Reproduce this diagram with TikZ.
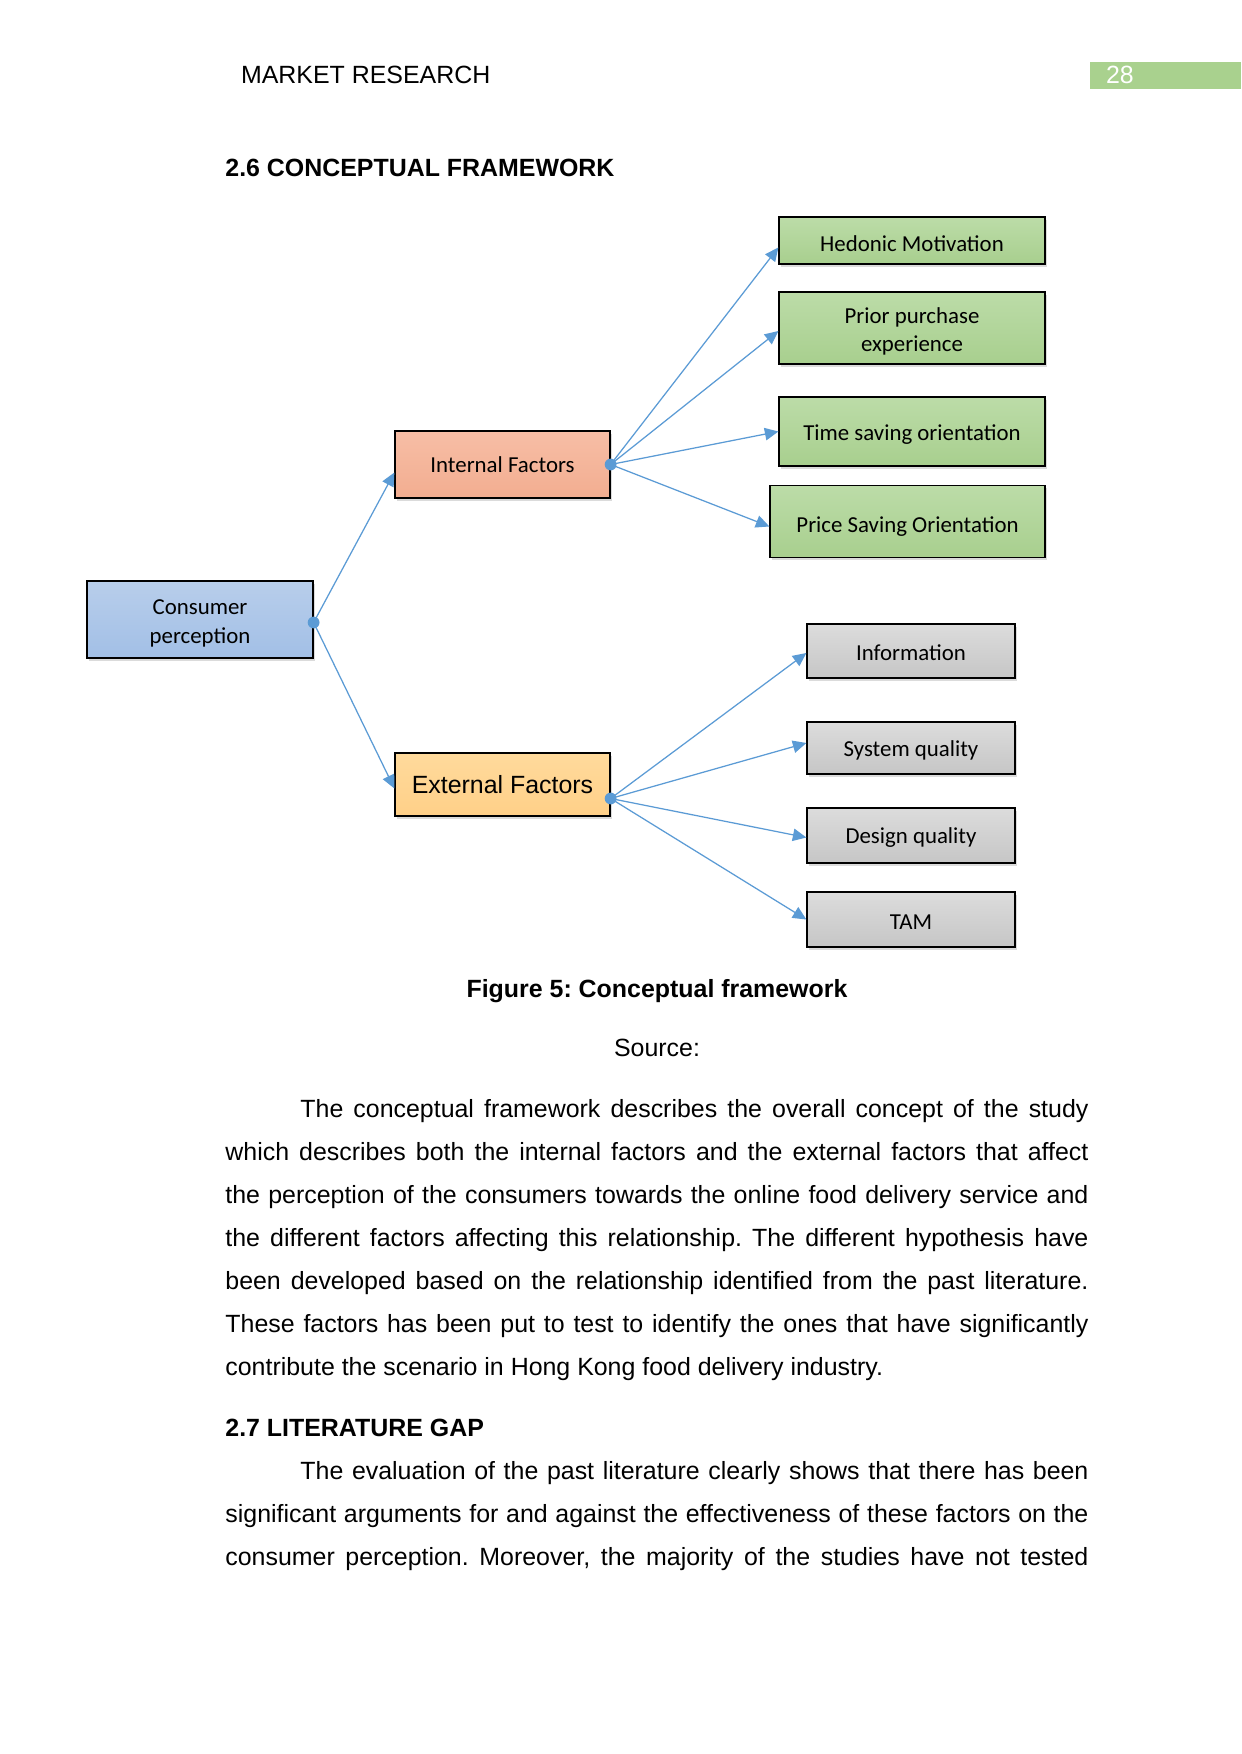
\documentclass[tikz,border=0pt]{standalone}
\usepackage{fontspec}
\setmainfont{Liberation Sans}
\newfontfamily\carlito{Carlito}
\usetikzlibrary{arrows.meta,shadows,calc}
\definecolor{lineblue}{HTML}{5B9BD5}
\definecolor{cptop}{HTML}{B8CEEB}
\definecolor{cpbot}{HTML}{A2BFE6}
\definecolor{inttop}{HTML}{F7BEA6}
\definecolor{intbot}{HTML}{F2AD90}
\definecolor{exttop}{HTML}{FFDA9C}
\definecolor{extbot}{HTML}{FFD088}
\definecolor{grtop}{HTML}{BCDCA8}
\definecolor{grbot}{HTML}{A8CF8E}
\definecolor{gytop}{HTML}{DCDCDC}
\definecolor{gybot}{HTML}{C6C6C6}
\definecolor{pgnum}{HTML}{A9D18E}
\def\pu{0.16922mm}
\newcommand{\topstrut}{\rule{0pt}{10.9pt}}
\frenchspacing
\tikzset{
  box/.style={draw=black, line width=0.6pt, align=center, inner sep=2pt,
    font=\carlito\fontsize{11}{13.6}\selectfont,
    drop shadow={shadow xshift=0.9pt, shadow yshift=-1.4pt, opacity=0.28}},
  lower/.style={execute at begin node={\rule{0pt}{#1}}},
  cpbox/.style={box, top color=cptop, bottom color=cpbot},
  intbox/.style={box, top color=inttop, bottom color=intbot},
  extbox/.style={box, top color=exttop, bottom color=extbot, font=\fontsize{12}{14}\selectfont},
  grbox/.style={box, lower=10.5pt, top color=grtop, bottom color=grbot},
  gybox/.style={box, lower=9.5pt, top color=gytop, bottom color=gybot},
  dot/.style={circle, fill=lineblue, inner sep=0pt, minimum size=2mm},
  conn/.style={draw=lineblue, line width=0.6pt, -{Triangle[length=6.5pt,width=6pt]}},
  txt/.style={anchor=base west, inner sep=0pt},
}
\begin{document}
\begin{tikzpicture}[x=0.16922mm,y=-0.16922mm, font=\fontsize{12}{14}\selectfont]
\useasboundingbox (0,0) rectangle (1241,1754);
\fill[white] (0,0) rectangle (1241,1754);

% header
\node[txt] (hdr) at (240.6,84) {MARKET RESEARCH};
\node[fill=pgnum, anchor=north west, inner sep=0pt, minimum width=151*\pu, minimum height=27*\pu] (pg) at (1090,61.5) {};
\node[txt, text=white] (pgn) at (1105.6,84) {28};

\node[txt, font=\bfseries\fontsize{12}{14}\selectfont] (h26) at (225,177) {2.6 CONCEPTUAL FRAMEWORK};

% boxes
\node[cpbox, minimum width=226*\pu, minimum height=77*\pu] (cp) at (200,619.5) {\topstrut Consumer\\perception};
\node[intbox, minimum width=215*\pu, minimum height=67*\pu] (int) at (502.5,464.5) {Internal Factors};
\node[extbox, minimum width=215*\pu, minimum height=63*\pu] (ext) at (502.5,784.5) {External Factors};

\node[grbox, minimum width=266*\pu, minimum height=47*\pu] (hed) at (912,240.5) {Hedonic Motivation};
\node[grbox, minimum width=266*\pu, minimum height=72*\pu] (pri) at (912,328) {\topstrut Prior purchase\\experience};
\node[grbox, minimum width=266*\pu, minimum height=69*\pu] (tim) at (912,431.5) {Time saving orientation};
\node[grbox, lower=12.5pt, minimum width=275*\pu, minimum height=72*\pu] (prc) at (907.5,521.5) {Price Saving Orientation};

\node[gybox, minimum width=208*\pu, minimum height=54*\pu] (inf) at (911,651) {Information};
\node[gybox, minimum width=208*\pu, minimum height=52*\pu] (sys) at (911,748) {System quality};
\node[gybox, minimum width=208*\pu, minimum height=55*\pu] (des) at (911,835.5) {Design quality};
\node[gybox, minimum width=208*\pu, minimum height=55*\pu] (tam) at (911,919.5) {TAM};

% connector dots
\node[dot] (d1) at ($(cp.east)+(0,3)$) {};
\node[dot] (d2) at (int.east) {};
\node[dot] (d3) at ($(ext.east)+(0,14)$) {};

% connectors
\draw[conn] (d1.center) -- ($(int.west)+(0,8)$);
\draw[conn] (d1.center) -- ($(ext.west)+(0,4)$);
\draw[conn] (d2.center) -- ($(hed.west)+(0,7)$);
\draw[conn] (d2.center) -- ($(pri.west)+(0,3)$);
\draw[conn] (d2.center) -- (tim.west);
\draw[conn] (d2.center) -- ($(prc.west)+(0,5)$);
\draw[conn] (d3.center) -- ($(inf.west)+(0,2)$);
\draw[conn] (d3.center) -- ($(sys.west)+(0,-5)$);
\draw[conn] (d3.center) -- ($(des.west)+(0,2)$);
\draw[conn] (d3.center) -- (tam.west);

% caption
\node[anchor=base, inner sep=0pt, font=\bfseries\fontsize{12}{14}\selectfont] (cap) at (657,997) {Figure 5: Conceptual framework};
\node[anchor=base, inner sep=0pt] (src) at (657,1056) {Source:};

% body text
\node[txt] (l1) at (300,1117) {\makebox[133.35mm][s]{The conceptual framework describes the overall concept of the study}};
\node[txt] (l2) at (225,1160.5) {\makebox[146.04mm][s]{which describes both the internal factors and the external factors that affect}};
\node[txt] (l3) at (225,1203.5) {\makebox[146.04mm][s]{the perception of the consumers towards the online food delivery service and}};
\node[txt] (l4) at (225,1246.5) {\makebox[146.04mm][s]{the different factors affecting this relationship. The different hypothesis have}};
\node[txt] (l5) at (225,1289.5) {\makebox[146.04mm][s]{been developed based on the relationship identified from the past literature.}};
\node[txt] (l6) at (225,1332.5) {\makebox[146.04mm][s]{These factors has been put to test to identify the ones that have significantly}};
\node[txt] (l7) at (225,1375.5) {contribute the scenario in Hong Kong food delivery industry.};

\node[txt, font=\bfseries\fontsize{12}{14}\selectfont] (h27) at (225,1436) {2.7 LITERATURE GAP};
\node[txt] (m1) at (300,1479) {\makebox[133.35mm][s]{The evaluation of the past literature clearly shows that there has been}};
\node[txt] (m2) at (225,1522) {\makebox[146.04mm][s]{significant arguments for and against the effectiveness of these factors on the}};
\node[txt] (m3) at (225,1565.5) {\makebox[146.04mm][s]{consumer perception. Moreover, the majority of the studies have not tested}};
\end{tikzpicture}
\end{document}
